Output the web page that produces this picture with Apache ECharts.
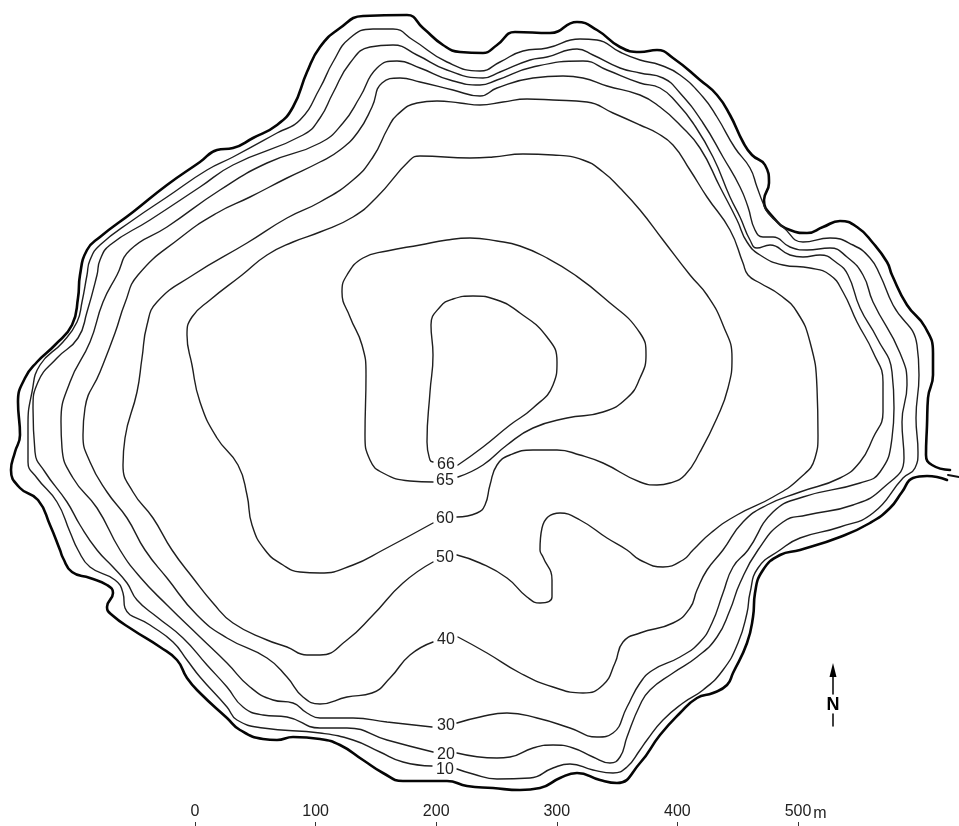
<!DOCTYPE html>
<html><head><meta charset="utf-8">
<style>html,body{margin:0;padding:0;background:#fff}#c{width:959px;height:826px}</style>
<script src="https://cdn.jsdelivr.net/npm/echarts@6/dist/echarts.min.js"></script>
</head><body><div id="c"></div>
<script>
// Contours (sheet units: 1.206 per metre, origin at the 0 m scale tick and the foot of the sheet)
const shore = [[950,470],[932,465],[926,455],[927,425],[928,398],[933,375],[933,353],[925,327],[907,305],[892,275],[887,262],[873,243],[857,227],[840,221],[823,227],[807,233],[790,230],[773,217],[764,200],[769,183],[765,165],[752,155],[743,142],[730,115],[717,95],[700,80],[673,58],[657,50],[640,52],[620,47],[597,30],[577,22],[550,33],[515,32],[497,45],[483,53],[460,52],[443,45],[423,28],[407,15],[363,16],[340,28],[320,47],[307,72],[293,107],[277,125],[253,138],[233,148],[217,150],[200,162],[167,185],[133,212],[100,237],[87,250],[80,275],[78,298],[72,325],[55,345],[37,362],[25,378],[18,402],[20,435],[15,452],[11,470],[20,488],[38,500],[50,525],[60,550],[63,558],[72,572],[90,578],[107,585],[113,593],[107,607],[112,615],[133,630],[160,647],[177,660],[187,678],[200,693],[227,718],[240,730],[263,739],[277,740],[293,737],[320,739],[340,745],[363,760],[383,773],[403,781],[447,781],[467,786],[493,788],[520,790],[540,788],[560,778],[577,773],[600,780],[617,783],[640,763],[660,735],[680,713],[697,698],[713,693],[727,685],[733,673],[747,643],[753,617],[755,593],[763,570],[780,555],[800,550],[840,537],[870,523],[890,508],[902,492],[913,478],[927,476],[947,480]];
const outletDash = [[948,475],[959,477]];
const c10 = [[457,769],[473,774],[497,779],[530,778],[553,768],[570,764],[593,770],[613,773],[627,767],[640,750],[647,740],[663,720],[683,703],[703,690],[723,670],[738,643],[747,613],[750,593],[758,568],[780,550],[800,538],[840,527],[873,513],[903,478],[915,468],[918,452],[916,418],[919,375],[917,345],[893,305],[880,275],[870,258],[853,245],[830,238],[803,242],[783,227],[768,213],[763,203],[757,187],[750,168],[735,148],[717,117],[703,97],[680,75],[660,65],[640,60],[620,52],[597,40],[580,39],[547,48],[523,51],[500,62],[480,71],[447,62],[413,40],[393,29],[373,29],[350,38],[333,62],[320,88],[300,120],[277,133],[233,157],[207,170],[167,197],[133,220],[100,245],[90,260],[87,275],[82,302],[77,322],[63,342],[40,365],[32,392],[28,425],[28,462],[37,478],[57,502],[70,532],[78,550],[90,567],[115,580],[123,593],[125,608],[150,625],[173,642],[187,660],[200,677],[227,707],[237,720],[263,728],[320,733],[353,740],[380,752],[403,762],[432,766]];
const c20 = [[457,753],[497,758],[510,757],[533,748],[553,745],[573,748],[593,757],[610,763],[620,757],[627,737],[640,705],[650,690],[673,673],[697,657],[717,637],[730,610],[740,583],[758,550],[783,522],[807,515],[853,505],[883,488],[904,458],[902,422],[907,385],[900,353],[873,302],[863,275],[847,257],[830,248],[807,250],[790,247],[773,237],[763,237],[755,230],[748,207],[740,187],[723,157],[703,123],[680,93],[663,78],[640,73],[620,68],[593,55],[577,49],[547,57],[530,60],[500,72],[483,78],[447,70],[417,55],[393,45],[370,47],[350,63],[333,93],[320,118],[303,135],[233,165],[200,187],[150,220],[110,245],[100,260],[97,275],[87,312],[78,338],[57,358],[38,382],[33,408],[35,452],[45,472],[67,502],[80,525],[97,550],[113,567],[127,583],[137,600],[157,617],[183,638],[207,665],[227,687],[243,707],[263,715],[287,717],[320,728],[347,728],[387,740],[433,752]];
const c30 = [[457,723],[480,717],[507,713],[537,718],[570,728],[597,737],[613,733],[627,707],[640,683],[653,670],[680,657],[700,642],[712,623],[723,593],[733,567],[748,550],[773,512],[803,497],[860,483],[880,472],[892,438],[894,408],[892,372],[877,338],[860,308],[848,275],[837,263],[820,255],[803,257],[790,255],[770,245],[757,248],[750,240],[740,217],[730,197],[713,157],[693,123],[677,103],[660,88],[640,83],[607,70],[583,61],[533,67],[497,80],[480,85],[450,80],[420,68],[397,61],[377,68],[360,97],[343,123],[320,143],[267,163],[220,190],[167,227],[130,250],[117,275],[103,302],[90,342],[70,382],[61,422],[62,448],[73,478],[97,508],[120,550],[140,577],[167,605],[200,637],[227,663],[250,687],[273,700],[293,703],[307,713],[320,718],[353,718],[387,722],[432,727]];
const c40 = [[458,637],[487,653],[520,673],[553,687],[583,693],[603,685],[615,663],[623,642],[640,633],[673,623],[690,608],[697,590],[707,570],[723,550],[743,522],[767,505],[800,492],[840,478],[860,462],[873,438],[883,412],[883,382],[873,352],[857,322],[843,292],[830,275],[810,268],[783,265],[760,255],[747,242],[737,220],[720,187],[700,148],[680,125],[660,107],[640,95],[607,86],[583,78],[563,76],[533,78],[497,88],[480,96],[453,90],[420,82],[400,78],[382,83],[372,107],[358,132],[340,150],[320,162],[287,178],[250,197],[217,213],[180,238],[138,275],[125,303],[115,333],[100,372],[85,408],[83,435],[90,462],[107,492],[127,518],[145,550],[167,578],[197,615],[227,638],[267,658],[287,677],[303,697],[320,704],[347,697],[372,693],[390,678],[410,655],[433,642]];
const c50 = [[457,555],[480,563],[507,578],[527,597],[540,603],[552,597],[552,580],[543,557],[540,550],[542,528],[560,513],[580,520],[607,538],[627,550],[640,560],[663,567],[683,560],[693,550],[712,532],[737,515],[773,497],[800,478],[815,458],[818,435],[817,388],[810,342],[797,312],[780,295],[760,283],[748,275],[743,263],[730,230],[707,197],[690,170],[673,145],[657,133],[640,125],[613,113],[587,102],[553,100],[527,99],[503,102],[480,105],[460,103],[437,101],[417,103],[397,115],[388,128],[373,157],[353,180],[320,202],[287,218],[247,243],[193,275],[157,302],[147,325],[142,358],[137,392],[125,438],[123,465],[133,492],[153,518],[172,550],[193,578],[213,603],[233,623],[267,640],[287,647],[307,655],[320,655],[347,640],[373,615],[403,583],[433,562]];
const c60 = [[457,517],[477,513],[485,505],[490,485],[497,465],[510,455],[533,450],[557,450],[580,455],[603,463],[640,482],[657,485],[670,483],[685,475],[700,452],[717,418],[728,388],[732,358],[723,325],[707,295],[690,275],[663,240],[640,210],[620,188],[603,172],[583,160],[553,155],[523,154],[493,157],[470,158],[420,156],[410,160],[377,197],[353,217],[320,232],[293,242],[267,255],[242,275],[210,300],[192,317],[187,335],[192,365],[200,402],[217,438],[238,465],[247,495],[252,525],[265,550],[283,565],[300,572],[320,573],[353,565],[383,550],[433,523]];
const c65 = [[458,477],[483,465],[507,445],[533,428],[567,418],[603,412],[627,398],[640,378],[646,355],[640,333],[603,297],[575,275],[547,258],[520,246],[497,241],[470,238],[447,240],[420,245],[387,251],[363,258],[347,275],[342,292],[350,317],[362,345],[366,375],[365,435],[370,460],[383,473],[410,481],[433,482]];
const c66 = [[458,465],[483,447],[510,425],[533,408],[553,385],[557,362],[547,337],[520,313],[497,300],[473,296],[453,299],[440,307],[431,325],[433,355],[430,392],[427,442],[430,460],[433,462]];

const depthNames = ["10","20","30","40","50","60","65","66"];
const depthAnchors = [[445,770],[446,755],[446,726],[446,640],[445,558],[445,519],[445,481],[446,465]];
const scaleTicks = [0,100,200,300,400,500];
const scaleUnit = ["m",[820,814]];
const northShaft = [[833,675],[833,694]];
const northTail = [[833,714],[833,726]];
const northHead = [[833,670]];
const northLetter = ["N",[833,705]];

const UNITS_PER_M = 1.206, ORIGIN_X = 195, SHEET_W = 959, SHEET_H = 826;
const toM = ([x,y]) => [(x-ORIGIN_X)/UNITS_PER_M, (SHEET_H-y)/UNITS_PER_M];

const contourLine = (name, pts, width, color) => ({
  type:'line', name, data:pts.map(toM), smooth:0.5, symbol:'none', silent:true, animation:false,
  lineStyle:{width, color, cap:'round', join:'round'}
});
const textPoint = (name, value, pos, style) => ({
  type:'scatter', name, symbolSize:0, silent:true, animation:false, itemStyle:{opacity:1},
  data:[{value:toM(pos), name:value}],
  label:Object.assign({show:true, position:'inside', formatter:'{b}', fontFamily:'Liberation Sans', color:'#222', fontSize:16, opacity:1}, style)
});

const series = [
  contourLine('shore', shore, 2.6, '#050505'),
  contourLine('outlet', outletDash, 2, '#111'),
  ...[c10,c20,c30,c40,c50,c60,c65,c66].map((c,i)=>contourLine(depthNames[i], c, 1.4, '#1f1f1f')),
  ...depthNames.map((d,i)=>textPoint('label'+d, d, depthAnchors[i], {})),
  textPoint('unit', scaleUnit[0], scaleUnit[1], {}),
  textPoint('north', northLetter[0], northLetter[1], {fontWeight:'bold', color:'#000', fontSize:18}),
  contourLine('northShaft', northShaft, 1.5, '#000'),
  contourLine('northTail', northTail, 1.5, '#000'),
  {type:'scatter', name:'northHead', symbol:'triangle', symbolSize:[7,14], silent:true, animation:false,
   data:northHead.map(toM), itemStyle:{color:'#000', opacity:1}}
];

const chart = echarts.init(document.getElementById('c'), null, {renderer:'canvas'});
chart.setOption({
  backgroundColor:'#fff', animation:false,
  grid:{left:0,right:0,top:0,bottom:0},
  xAxis:{type:'value', min:-ORIGIN_X/UNITS_PER_M, max:(SHEET_W-ORIGIN_X)/UNITS_PER_M,
    splitLine:{show:false}, axisLine:{show:false},
    axisTick:{show:true, inside:true, length:4, customValues:scaleTicks, lineStyle:{color:'#333',width:1}},
    axisLabel:{show:true, inside:true, margin:6, customValues:scaleTicks, fontFamily:'Liberation Sans', fontSize:16, color:'#222', hideOverlap:false, showMinLabel:true, showMaxLabel:true}},
  yAxis:{type:'value', min:0, max:SHEET_H/UNITS_PER_M, show:false, splitLine:{show:false}},
  series
});
</script></body></html>
